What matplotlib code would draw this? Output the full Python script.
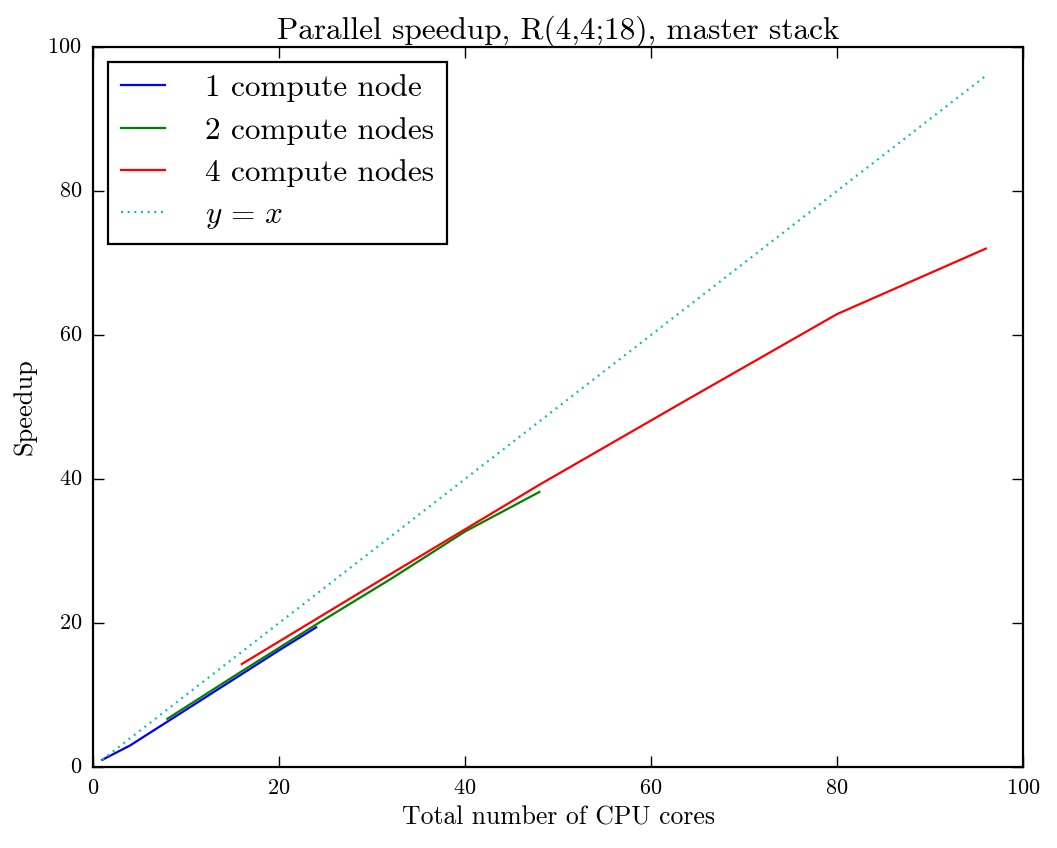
import matplotlib
matplotlib.use("Agg")
import matplotlib.pyplot as plt

# Data
cores_1 = [1, 4, 8, 12, 16, 20, 24]
speed_1 = [1.0, 3.0, 6.3, 9.6, 12.9, 16.2, 19.4]
cores_2 = [8, 16, 24, 32, 40, 48]
speed_2 = [6.7, 13.3, 19.8, 26.1, 32.7, 38.2]
cores_4 = [16, 32, 48, 64, 80, 96]
speed_4 = [14.3, 26.8, 39.2, 51.1, 62.9, 72.0]
ideal_x = [1, 96]
ideal_y = [1, 96]
labels = ["1 compute node", "2 compute nodes", "4 compute nodes", r"$y\,=\,x$"]
title = "Parallel speedup, R(4,4;18), master stack"
xlabel = "Total number of CPU cores"
ylabel = "Speedup"

plt.style.use("classic")
plt.rcParams["font.family"] = "cmr10"
plt.rcParams["mathtext.fontset"] = "cm"
plt.rcParams["axes.formatter.use_mathtext"] = True
plt.rcParams["lines.scale_dashes"] = False

fig = plt.figure(figsize=(10.57, 8.48), dpi=100)
fig.patch.set_facecolor("white")
ax = fig.add_axes([93/1057, 1-767/848, (1023-93)/1057, (767-47)/848])

ax.plot(cores_1, speed_1, color="b", lw=1.6, label=labels[0])
ax.plot(cores_2, speed_2, color="g", lw=1.6, label=labels[1])
ax.plot(cores_4, speed_4, color="r", lw=1.6, label=labels[2])
ax.plot(ideal_x, ideal_y, color="c", ls=(0, (1.4, 3.4)), lw=1.6, label=labels[3])

ax.set_xlim(0, 100)
ax.set_ylim(0, 100)
ax.set_xticks([0, 20, 40, 60, 80, 100])
ax.set_yticks([0, 20, 40, 60, 80, 100])
ax.tick_params(labelsize=16, direction="in", length=8, width=1, top=True, right=True, pad=8)
for s in ax.spines.values():
    s.set_linewidth(1.6)

ax.set_title(title, fontsize=22.5, pad=6)
ax.set_xlabel(xlabel, fontsize=18.5, labelpad=6)
ax.set_ylabel(ylabel, fontsize=19, labelpad=8)

leg = ax.legend(loc="upper left", fontsize=22.5, frameon=True, fancybox=False,
                handlelength=1.41, borderpad=0.4, labelspacing=0.46, handletextpad=1.3,
                borderaxespad=0.48, numpoints=1)
leg.get_frame().set_linewidth(1.6)
leg.get_frame().set_edgecolor("black")

fig.savefig("out.png", dpi=100, facecolor="white")
